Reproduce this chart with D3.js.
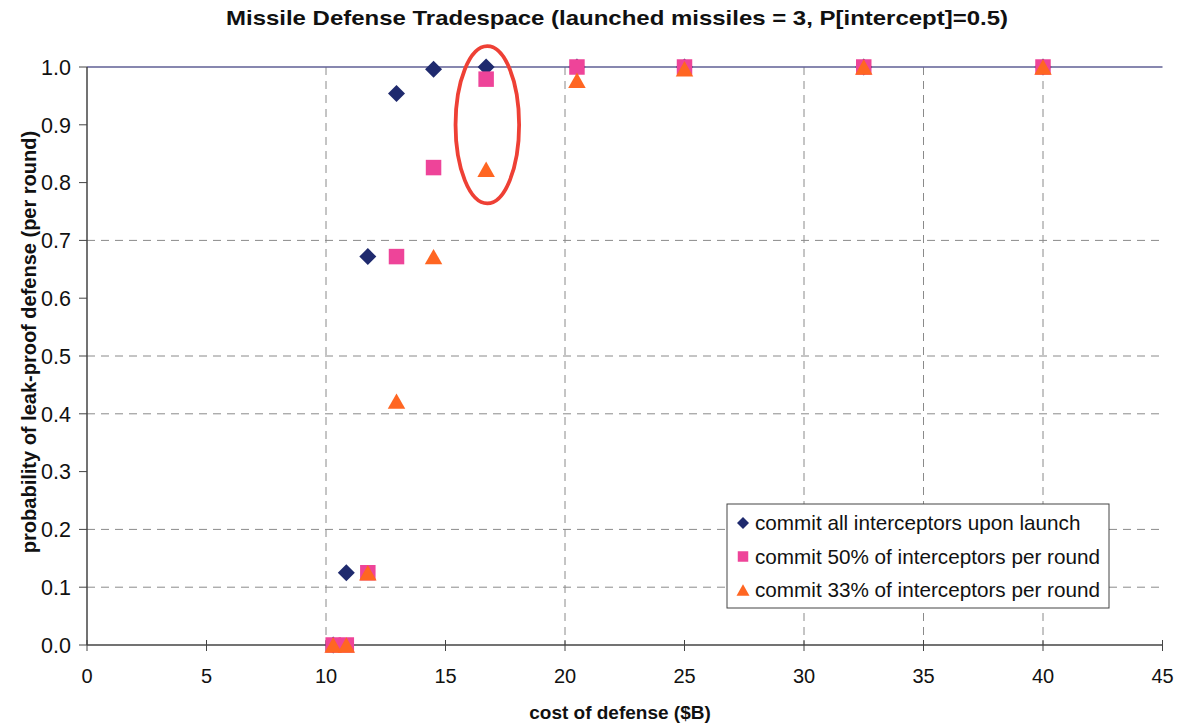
<!DOCTYPE html>
<html>
<head>
<meta charset="utf-8">
<script src="https://cdn.jsdelivr.net/npm/d3@7"></script>
<style>
  html, body { margin: 0; padding: 0; background: #ffffff; }
  svg { display: block; font-family: "Liberation Sans", Arial, sans-serif; }
</style>
</head>
<body>
<svg id="chart" width="1179" height="725"></svg>
<script>
// Cost of defense ($B) for each configuration
const costs = [10.3, 10.85, 11.75, 12.95, 14.5, 16.7, 20.5, 25, 32.5, 40];

// Probability of a leak-proof defense (per round), one list per firing doctrine
const commitAll = [0, 0.125, 0.672, 0.954, 0.996, 1.0, 1.0, 1.0, 1.0, 1.0];
const commit50  = [0, 0, 0.125, 0.672, 0.826, 0.979, 1.0, 1.0, 1.0, 1.0];
const commit33  = [0, 0, 0.125, 0.422, 0.672, 0.823, 0.977, 0.997, 1.0, 1.0];

const seriesNames = [
  "commit all interceptors upon launch",
  "commit 50% of interceptors per round",
  "commit 33% of interceptors per round"
];

// Axis ticks and the gridlines that are drawn
const xTicks = [0, 5, 10, 15, 20, 25, 30, 35, 40, 45];
const yTicks = [0, 0.1, 0.2, 0.3, 0.4, 0.5, 0.6, 0.7, 0.8, 0.9, 1.0];
const xGrid = [10, 20, 30, 35, 40];
const yGrid = [0.1, 0.2, 0.4, 0.5, 0.7];

// Highlight ring around the 16.7 $B configuration: [centre cost, centre prob, half-width, half-height]
const highlight = [16.75, 0.9, 1.33, 0.136];

const titleText = "Missile Defense Tradespace (launched missiles = 3, P[intercept]=0.5)";
const xTitle = "cost of defense ($B)";
const yTitle = "probability of leak-proof defense (per round)";

const svg = d3.select("#chart");
const plotLeft = 87, plotRight = 1162.5, plotTop = 67, plotBottom = 645;

const x = d3.scaleLinear().domain([0, 45]).range([plotLeft, plotRight]);
const y = d3.scaleLinear().domain([0, 1]).range([plotBottom, plotTop]);

// Marker shapes
const diamondType = { draw(ctx, size) { const r = Math.sqrt(size) / 2;
  ctx.moveTo(0, -r); ctx.lineTo(r, 0); ctx.lineTo(0, r); ctx.lineTo(-r, 0); ctx.closePath(); } };
const squareType = { draw(ctx, size) { const r = Math.sqrt(size) / 2;
  ctx.rect(-r, -r, 2 * r, 2 * r); } };
const triangleType = { draw(ctx, size) { const w = Math.sqrt(size); const h = w * 0.88;
  ctx.moveTo(0, -h / 2); ctx.lineTo(w / 2, h / 2); ctx.lineTo(-w / 2, h / 2); ctx.closePath(); } };

const series = [
  { name: seriesNames[0], values: commitAll, type: diamondType, color: "#1f2a6e", size: 17 * 17, legendSize: 12 * 12 },
  { name: seriesNames[1], values: commit50, type: squareType, color: "#ee4499", size: 15.5 * 15.5, legendSize: 10.5 * 10.5 },
  { name: seriesNames[2], values: commit33, type: triangleType, color: "#ff6622", size: 17.5 * 17.5, legendSize: 13 * 13 }
];

// Gridlines
const grid = svg.append("g").attr("stroke", "#8a8a8a").attr("stroke-width", 1).attr("stroke-dasharray", "8,6");
grid.selectAll(".gx").data(xGrid).join("line")
  .attr("x1", d => x(d)).attr("x2", d => x(d)).attr("y1", plotTop).attr("y2", plotBottom);
grid.selectAll(".gy").data(yGrid).join("line")
  .attr("x1", plotLeft).attr("x2", plotRight).attr("y1", d => y(d)).attr("y2", d => y(d));

// Solid line at probability 1.0
svg.append("line").attr("x1", plotLeft).attr("x2", plotRight).attr("y1", y(1)).attr("y2", y(1))
  .attr("stroke", "#5f5f95").attr("stroke-width", 1.5);

// Axes
const axisColor = "#444";
svg.append("line").attr("x1", plotLeft).attr("x2", plotLeft).attr("y1", plotTop).attr("y2", plotBottom)
  .attr("stroke", axisColor).attr("stroke-width", 1.5);
svg.append("line").attr("x1", plotLeft).attr("x2", plotRight).attr("y1", plotBottom).attr("y2", plotBottom)
  .attr("stroke", axisColor).attr("stroke-width", 1.5);

svg.append("g").selectAll("line").data(yTicks).join("line")
  .attr("x1", plotLeft - 8).attr("x2", plotLeft).attr("y1", d => y(d)).attr("y2", d => y(d))
  .attr("stroke", axisColor).attr("stroke-width", 1);
svg.append("g").selectAll("line").data(xTicks).join("line")
  .attr("x1", d => x(d)).attr("x2", d => x(d)).attr("y1", plotBottom - 5).attr("y2", plotBottom + 6)
  .attr("stroke", axisColor).attr("stroke-width", 1);

const fmtY = d3.format(".1f");
svg.append("g").selectAll("text").data(yTicks).join("text")
  .attr("x", 71).attr("y", d => y(d)).attr("dy", "0.36em")
  .attr("text-anchor", "end").attr("font-size", 21.5).attr("fill", "#111")
  .text(d => fmtY(d));
svg.append("g").selectAll("text").data(xTicks).join("text")
  .attr("x", d => x(d)).attr("y", 683)
  .attr("text-anchor", "middle").attr("font-size", 20).attr("fill", "#111")
  .text(d => d);

// Titles
svg.append("text").attr("x", 617).attr("y", 25).attr("text-anchor", "middle")
  .attr("font-size", 21).attr("font-weight", "bold").attr("fill", "#111")
  .attr("textLength", 782).attr("lengthAdjust", "spacingAndGlyphs").text(titleText);
svg.append("text").attr("x", 620).attr("y", 719).attr("text-anchor", "middle")
  .attr("font-size", 19).attr("font-weight", "bold").attr("fill", "#111").text(xTitle);
svg.append("text").attr("transform", "translate(36,342) rotate(-90)").attr("text-anchor", "middle")
  .attr("font-size", 20).attr("font-weight", "bold").attr("fill", "#111").text(yTitle);

// Data markers
series.forEach(s => {
  svg.append("g").selectAll("path").data(s.values.map((v, i) => [costs[i], v])).join("path")
    .attr("transform", d => `translate(${x(d[0])},${y(d[1])})`)
    .attr("d", d3.symbol().type(s.type).size(s.size))
    .attr("fill", s.color);
});

// Highlight ring
svg.append("ellipse")
  .attr("cx", x(highlight[0])).attr("cy", y(highlight[1]))
  .attr("rx", x(highlight[0] + highlight[2]) - x(highlight[0]))
  .attr("ry", y(highlight[1] - highlight[3]) - y(highlight[1]))
  .attr("fill", "none").attr("stroke", "#ee4035").attr("stroke-width", 3.8);

// Legend
const lg = svg.append("g").attr("transform", "translate(727,504)");
lg.append("rect").attr("width", 382).attr("height", 104)
  .attr("fill", "#fff").attr("stroke", "#444").attr("stroke-width", 1);
series.forEach((s, i) => {
  const row = lg.append("g").attr("transform", `translate(0,${19 + i * 33.5})`);
  row.append("path").attr("transform", "translate(16,0)")
    .attr("d", d3.symbol().type(s.type).size(s.legendSize)).attr("fill", s.color);
  row.append("text").attr("x", 28).attr("dy", "0.36em")
    .attr("font-size", 20.7).attr("fill", "#111").text(s.name);
});
</script>
</body>
</html>
